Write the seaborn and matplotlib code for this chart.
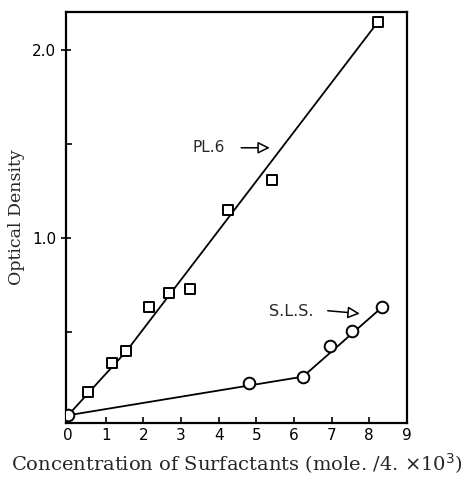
import matplotlib
matplotlib.use("Agg")
import matplotlib.pyplot as plt
import seaborn as sns

# Data
pl6_x = [0.53, 1.16, 1.53, 2.16, 2.68, 3.23, 4.26, 5.42, 8.24]
pl6_y = [0.185, 0.34, 0.40, 0.635, 0.71, 0.73, 1.15, 1.31, 2.15]
pl6_line_x = [0.0, 1.55, 8.24]
pl6_line_y = [0.06, 0.40, 2.15]

sls_x = [0.0, 4.80, 6.24, 6.95, 7.54, 8.35]
sls_y = [0.06, 0.23, 0.265, 0.43, 0.51, 0.635]
sls_line_x = [0.0, 6.24, 8.35]
sls_line_y = [0.06, 0.265, 0.635]

x_ticks = [0, 1, 2, 3, 4, 5, 6, 7, 8, 9]
y_ticks = [1.0, 2.0]
y_minor = [0.5, 1.5]

sns.set_style("ticks")
plt.rcParams["font.family"] = ["DejaVu Sans"]

fig = plt.figure(figsize=(4.66, 4.86), dpi=100)
ax = fig.add_axes([0.142, 0.130, 0.731, 0.845])

# Lines
sns.lineplot(x=pl6_line_x, y=pl6_line_y, color="black", linewidth=1.3, sort=False, ax=ax)
sns.lineplot(x=sls_line_x, y=sls_line_y, color="black", linewidth=1.3, sort=False, ax=ax)

# Markers
sns.scatterplot(x=pl6_x, y=pl6_y, marker="s", s=60, facecolor="white",
                edgecolor="black", linewidth=1.4, zorder=3, ax=ax)
sns.scatterplot(x=sls_x, y=sls_y, marker="o", s=70, facecolor="white",
                edgecolor="black", linewidth=1.4, zorder=3, ax=ax)

ax.set_xlim(-0.05, 9.0)
ax.set_ylim(0.02, 2.2)

ax.set_xticks(x_ticks)
ax.set_xticklabels([str(t) for t in x_ticks], fontsize=11)
ax.set_yticks(y_ticks)
ax.set_yticklabels(["1.0", "2.0"], fontsize=11)
ax.set_yticks(y_minor, minor=True)
ax.tick_params(axis="both", which="both", colors="black")
ax.tick_params(axis="x", direction="in", length=4, width=1.2)
ax.tick_params(axis="y", which="major", direction="inout", length=7, width=1.2)
ax.tick_params(axis="y", which="minor", direction="in", length=4, width=1.2)

for side in ["left", "right", "top", "bottom"]:
    ax.spines[side].set_visible(True)
    ax.spines[side].set_linewidth(1.6)
    ax.spines[side].set_color("black")

ax.set_xlabel("Concentration of Surfactants (mole. /4. $\\times$10$^3$)",
              fontsize=14, family="DejaVu Serif", labelpad=6)
ax.set_ylabel("Optical Density", fontsize=12.5, family="DejaVu Serif", labelpad=5)

# Annotations
arrow = dict(arrowstyle="-|>", ec="black", fc="white", lw=1.1,
             mutation_scale=18, shrinkA=0, shrinkB=0)
ax.text(3.3, 1.48, "PL.6", fontsize=11, va="center", ha="left")
ax.annotate("", xy=(5.36, 1.48), xytext=(4.6, 1.48), arrowprops=arrow)
ax.text(5.35, 0.61, "S.L.S.", fontsize=11.5, va="center", ha="left")
ax.annotate("", xy=(7.75, 0.60), xytext=(6.9, 0.615), arrowprops=arrow)

fig.savefig("out.png", dpi=100)
